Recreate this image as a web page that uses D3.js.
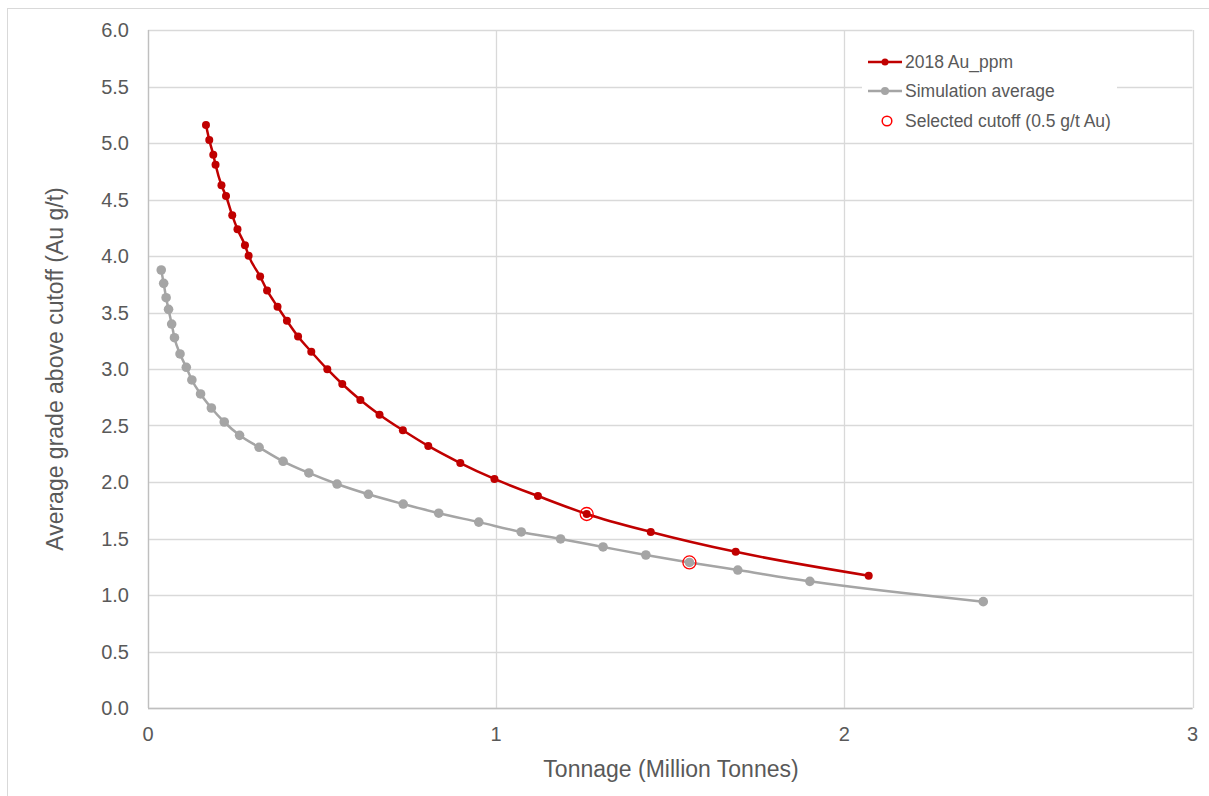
<!DOCTYPE html>
<html>
<head>
<meta charset="utf-8">
<script src="https://cdn.jsdelivr.net/npm/d3@7"></script>
<style>
  html, body { margin: 0; padding: 0; background: #fff; }
  svg { display: block; font-family: "Liberation Sans", Arial, sans-serif; }
</style>
</head>
<body>
<svg id="chart" width="1209" height="796"></svg>
<script>
// ---- Data ----
const redTonnage = [0.1665, 0.176, 0.1875, 0.194, 0.211, 0.224, 0.242, 0.257, 0.2785, 0.289,
  0.322, 0.342, 0.372, 0.399, 0.431, 0.469, 0.515, 0.558, 0.610, 0.665,
  0.732, 0.805, 0.897, 0.995, 1.120, 1.260, 1.444, 1.688, 2.070];
const redGrade = [5.159, 5.027, 4.896, 4.808, 4.626, 4.531, 4.360, 4.236, 4.095, 4.003,
  3.819, 3.695, 3.551, 3.427, 3.288, 3.153, 2.998, 2.867, 2.726, 2.596,
  2.458, 2.319, 2.168, 2.027, 1.876, 1.717, 1.558, 1.382, 1.171];
const simTonnage = [0.038, 0.045, 0.052, 0.059, 0.068, 0.076, 0.092, 0.110, 0.126, 0.151,
  0.182, 0.219, 0.263, 0.319, 0.388, 0.462, 0.543, 0.633, 0.733, 0.835,
  0.950, 1.072, 1.185, 1.307, 1.430, 1.555, 1.694, 1.901, 2.399];
const simGrade = [3.876, 3.758, 3.631, 3.528, 3.398, 3.277, 3.133, 3.015, 2.903, 2.779,
  2.655, 2.531, 2.413, 2.307, 2.183, 2.080, 1.982, 1.891, 1.805, 1.724,
  1.645, 1.558, 1.496, 1.425, 1.354, 1.288, 1.221, 1.121, 0.941];
const cutoffTonnage = [1.260, 1.555];
const cutoffGrade = [1.717, 1.288];
const xTicks = [0, 1, 2, 3];
const yTicks = [0, 0.5, 1, 1.5, 2, 2.5, 3, 3.5, 4, 4.5, 5, 5.5, 6];
const seriesNames = ["2018 Au_ppm", "Simulation average", "Selected cutoff (0.5 g/t Au)"];
const xTitle = "Tonnage (Million Tonnes)";
const yTitle = "Average grade above cutoff (Au g/t)";

// ---- Layout ----
const svg = d3.select("#chart");
const L = 148, R = 1192.5, T = 30, B = 708;
const x = d3.scaleLinear().domain([0, 3]).range([L, R]);
const y = d3.scaleLinear().domain([0, 6]).range([B, T]);
const RED = "#C00000", GRAY = "#A5A5A5", TXT = "#595959", GRID = "#d9d9d9";

// outer chart frame
svg.append("rect").attr("x", 7.5).attr("y", 8.5).attr("width", 1215).attr("height", 800)
  .attr("fill", "none").attr("stroke", "#d9d9d9").attr("stroke-width", 1);

// gridlines
svg.append("g").selectAll("line").data(yTicks).join("line")
  .attr("x1", L).attr("x2", R).attr("y1", d => Math.round(y(d)) + 0.5).attr("y2", d => Math.round(y(d)) + 0.5)
  .attr("stroke", GRID).attr("stroke-width", 1.3);
svg.append("g").selectAll("line").data(xTicks).join("line")
  .attr("y1", T).attr("y2", B).attr("x1", d => Math.round(x(d)) + 0.5).attr("x2", d => Math.round(x(d)) + 0.5)
  .attr("stroke", GRID).attr("stroke-width", 1.3);

// axis lines
svg.append("line").attr("x1", L + 0.5).attr("x2", L + 0.5).attr("y1", T).attr("y2", B)
  .attr("stroke", "#bfbfbf").attr("stroke-width", 1.3);
svg.append("line").attr("x1", L).attr("x2", R).attr("y1", B + 0.5).attr("y2", B + 0.5)
  .attr("stroke", "#bfbfbf").attr("stroke-width", 1.3);

// tick labels
svg.append("g").selectAll("text").data(yTicks).join("text")
  .attr("x", 129).attr("y", d => y(d)).attr("dy", "0.35em")
  .attr("text-anchor", "end").attr("font-size", 20).attr("fill", TXT)
  .text(d => d3.format(".1f")(d));
svg.append("g").selectAll("text").data(xTicks).join("text")
  .attr("x", d => x(d)).attr("y", 734).attr("dy", "0.35em")
  .attr("text-anchor", "middle").attr("font-size", 20).attr("fill", TXT)
  .text(d => d);

// axis titles
svg.append("text").attr("x", 671).attr("y", 769).attr("dy", "0.35em")
  .attr("text-anchor", "middle").attr("font-size", 23).attr("fill", TXT).text(xTitle);
svg.append("text").attr("transform", "translate(55,369) rotate(-90)").attr("dy", "0.35em")
  .attr("text-anchor", "middle").attr("font-size", 23).attr("fill", TXT).text(yTitle);

// series lines
const redData = redTonnage.map((t, i) => [t, redGrade[i]]);
const simData = simTonnage.map((t, i) => [t, simGrade[i]]);
const line = d3.line().x(d => x(d[0])).y(d => y(d[1])).curve(d3.curveMonotoneX);

svg.append("path").datum(simData).attr("d", line).attr("fill", "none")
  .attr("stroke", GRAY).attr("stroke-width", 2.5).attr("stroke-linejoin", "round");
svg.append("g").selectAll("circle").data(simData).join("circle")
  .attr("cx", d => x(d[0])).attr("cy", d => y(d[1])).attr("r", 4.8).attr("fill", GRAY);

svg.append("path").datum(redData).attr("d", line).attr("fill", "none")
  .attr("stroke", RED).attr("stroke-width", 2.5).attr("stroke-linejoin", "round");
svg.append("g").selectAll("circle").data(redData).join("circle")
  .attr("cx", d => x(d[0])).attr("cy", d => y(d[1])).attr("r", 4).attr("fill", RED);

// selected cutoff markers
const cutData = cutoffTonnage.map((t, i) => [t, cutoffGrade[i]]);
svg.append("g").selectAll("circle").data(cutData).join("circle")
  .attr("cx", d => x(d[0])).attr("cy", d => y(d[1])).attr("r", 6.5)
  .attr("fill", "none").attr("stroke", "#FF0000").attr("stroke-width", 1.3);

// legend
const lg = svg.append("g");
lg.append("rect").attr("x", 862).attr("y", 46).attr("width", 255).attr("height", 90).attr("fill", "#fff");
const legY = [62, 91, 121];
lg.append("line").attr("x1", 868).attr("x2", 902).attr("y1", legY[0]).attr("y2", legY[0])
  .attr("stroke", RED).attr("stroke-width", 2.5);
lg.append("circle").attr("cx", 885).attr("cy", legY[0]).attr("r", 3.5).attr("fill", RED);
lg.append("line").attr("x1", 868).attr("x2", 902).attr("y1", legY[1]).attr("y2", legY[1])
  .attr("stroke", GRAY).attr("stroke-width", 2.5);
lg.append("circle").attr("cx", 885).attr("cy", legY[1]).attr("r", 4).attr("fill", GRAY);
lg.append("circle").attr("cx", 887).attr("cy", legY[2]).attr("r", 4.8)
  .attr("fill", "#fff").attr("stroke", "#FF0000").attr("stroke-width", 1.5);
lg.selectAll("text").data(seriesNames).join("text")
  .attr("x", 905).attr("y", (d, i) => legY[i]).attr("dy", "0.35em")
  .attr("font-size", 17.5).attr("fill", TXT).text(d => d);
</script>
</body>
</html>
